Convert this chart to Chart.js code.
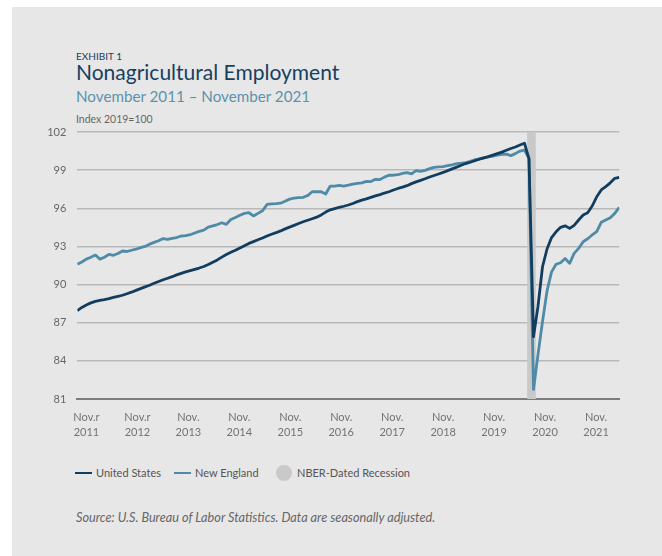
<!DOCTYPE html>
<html>
<head>
<meta charset="utf-8">
<script src="https://cdn.jsdelivr.net/npm/chart.js@4.4.1/dist/chart.umd.min.js"></script>
<style>
  html, body { margin: 0; padding: 0; background: #fff; }
  body { width: 662px; height: 556px; position: relative; overflow: hidden; font-family: Lato, "Noto Sans", sans-serif; }
  #panel { position: absolute; left: 12px; top: 7px; right: 0; bottom: 0; background: #e7e7e7; }
  .t { position: absolute; white-space: nowrap; line-height: 1; }
  #chart { position: absolute; left: 0; top: 0; }
  .swatch { position: absolute; height: 2.5px; width: 17px; }
  .dot { position: absolute; width: 16px; height: 16px; border-radius: 50%; background: #c9c9c9; }
</style>
</head>
<body>
<div id="panel"></div>
<div class="t" style="left:76px; top:50.5px; font-size:10px; color:#1d3e5e;">EXHIBIT 1</div>
<div class="t" style="left:76px; top:60.6px; font-size:21px; color:#17405f;">Nonagricultural Employment</div>
<div class="t" style="left:76px; top:89.2px; font-size:15.2px; color:#5b93ad;">November 2011 – November 2021</div>
<div class="t" style="left:76px; top:114px; font-size:10.5px; color:#666;">Index 2019=100</div>
<canvas id="chart" width="662" height="439"></canvas>
<div class="swatch" style="left:75px; top:471.5px; background:#123d5f;"></div>
<div class="t" style="left:96px; top:467px; font-size:11px; color:#555;">United States</div>
<div class="swatch" style="left:174px; top:471.5px; background:#4f8ba7;"></div>
<div class="t" style="left:195px; top:467px; font-size:11px; color:#555;">New England</div>
<div class="dot" style="left:276px; top:465px;"></div>
<div class="t" style="left:297px; top:467px; font-size:11px; color:#555;">NBER-Dated Recession</div>
<div class="t" style="left:76px; top:511px; font-size:12.7px; color:#666; font-style:italic;">Source: U.S. Bureau of Labor Statistics. Data are seasonally adjusted.</div>
<script>
// months are counted from Nov 2011 (0) to Nov 2021 (120)
const tickMonths = ["Nov.r", "Nov.r", "Nov.", "Nov.", "Nov.", "Nov.", "Nov.", "Nov.", "Nov.", "Nov.", "Nov."]
const tickYears = ["2011", "2012", "2013", "2014", "2015", "2016", "2017", "2018", "2019", "2020", "2021"]
const yTicks = [81, 84, 87, 90, 93, 96, 99, 102]

const unitedStates = [
  87.95, 88.2, 88.4, 88.56, 88.68, 88.76, 88.82, 88.9, 89.0, 89.08,
  89.16, 89.28, 89.4, 89.54, 89.68, 89.82, 89.95, 90.1, 90.24, 90.38,
  90.5, 90.62, 90.76, 90.88, 91.0, 91.1, 91.2, 91.3, 91.42, 91.58,
  91.76, 91.94, 92.16, 92.36, 92.54, 92.7, 92.88, 93.06, 93.24, 93.38,
  93.52, 93.66, 93.82, 93.96, 94.08, 94.22, 94.38, 94.52, 94.66, 94.8,
  94.94, 95.06, 95.18, 95.3, 95.48, 95.7, 95.88, 95.98, 96.08, 96.16,
  96.26, 96.38, 96.52, 96.64, 96.74, 96.86, 96.98, 97.08, 97.2, 97.3,
  97.44, 97.56, 97.66, 97.78, 97.94, 98.08, 98.2, 98.32, 98.46, 98.58,
  98.7, 98.82, 98.96, 99.1, 99.24, 99.38, 99.52, 99.62, 99.74, 99.86,
  99.96, 100.06, 100.18, 100.3, 100.42, 100.56, 100.7, 100.82, 100.98, 101.12,
  99.9, 85.9, 88.3, 91.4, 92.8, 93.7, 94.15, 94.5, 94.62, 94.42,
  94.66, 95.08, 95.47, 95.65, 96.18, 96.9, 97.44, 97.7, 98.0, 98.36, 98.44
]

const newEngland = [
  91.6, 91.78, 92.0, 92.15, 92.32, 92.0, 92.15, 92.38, 92.3, 92.45,
  92.64, 92.6, 92.7, 92.78, 92.9, 93.0, 93.18, 93.32, 93.45, 93.62,
  93.56, 93.64, 93.7, 93.82, 93.85, 93.92, 94.06, 94.18, 94.28, 94.52,
  94.62, 94.72, 94.86, 94.74, 95.12, 95.28, 95.45, 95.6, 95.65, 95.4,
  95.6, 95.8, 96.3, 96.35, 96.36, 96.4, 96.55, 96.72, 96.8, 96.84,
  96.86, 97.0, 97.3, 97.3, 97.3, 97.12, 97.75, 97.74, 97.8, 97.75,
  97.82, 97.9, 97.96, 98.0, 98.12, 98.1, 98.28, 98.26, 98.45, 98.6,
  98.6, 98.64, 98.75, 98.8, 98.7, 98.96, 98.9, 98.98, 99.12, 99.22,
  99.25, 99.28, 99.35, 99.42, 99.52, 99.55, 99.6, 99.7, 99.82, 99.88,
  99.96, 100.04, 100.1, 100.18, 100.24, 100.26, 100.14, 100.3, 100.5, 100.58,
  99.93, 81.75, 84.5, 87.1, 89.5, 91.0, 91.6, 91.72, 92.05, 91.67,
  92.45, 92.85, 93.37, 93.6, 93.9, 94.16, 94.9, 95.08, 95.26, 95.6, 96.07
]

// NBER recession, Feb–Apr 2020, in month index
const recession = [99.6, 101.5]

const tickFont = { family: "Lato, 'Noto Sans', sans-serif", size: 11, lineHeight: 1.35 }

const recessionBand = {
  id: "recessionBand",
  beforeDatasetsDraw(chart) {
    const { ctx, chartArea, scales } = chart
    const left = scales.x.getPixelForValue(recession[0])
    const right = scales.x.getPixelForValue(recession[1])
    ctx.save()
    ctx.fillStyle = "#c9c9c9"
    ctx.fillRect(left, chartArea.top, right - left, chartArea.bottom - chartArea.top)
    ctx.restore()
  }
}

new Chart(document.getElementById("chart"), {
  type: "line",
  data: {
    datasets: [{
      label: "United States",
      data: unitedStates.map((v, i) => ({ x: i, y: v })),
      borderColor: "#123d5f",
      borderWidth: 2.8,
      borderJoinStyle: "round",
      pointRadius: 0,
      tension: 0
    }, {
      label: "New England",
      data: newEngland.map((v, i) => ({ x: i, y: v })),
      borderColor: "#4f8ba7",
      borderWidth: 2.8,
      borderJoinStyle: "round",
      pointRadius: 0,
      tension: 0
    }]
  },
  options: {
    responsive: false,
    animation: false,
    layout: { padding: { left: 0, top: 132, right: 42.7, bottom: 0 } },
    plugins: { legend: { display: false }, tooltip: { enabled: false } },
    scales: {
      x: { type: "linear", min: 0, max: 120, display: false },
      xl: {
        type: "linear",
        position: "bottom",
        min: -0.18,
        max: 10.457,
        afterBuildTicks: s => { s.ticks = tickYears.map((_, i) => ({ value: i })) },
        afterFit: s => { s.height = 40 },
        grid: { display: false },
        border: { display: true, color: "#7d7d7d", width: 2 },
        ticks: {
          callback: (v, i) => [tickMonths[i], tickYears[i]],
          color: "#737373",
          font: tickFont,
          padding: 3,
          maxRotation: 0,
          autoSkip: false
        }
      },
      y: {
        min: 81,
        max: 102,
        afterBuildTicks: s => { s.ticks = yTicks.map(v => ({ value: v })) },
        afterFit: s => { s.width = 77.3 },
        grid: { color: "#b9b9b9", lineWidth: 1.5, drawTicks: false },
        border: { display: false },
        ticks: { color: "#666", font: { family: "Lato, 'Noto Sans', sans-serif", size: 11 }, padding: 11 }
      }
    }
  },
  plugins: [recessionBand]
})
</script>
</body>
</html>
